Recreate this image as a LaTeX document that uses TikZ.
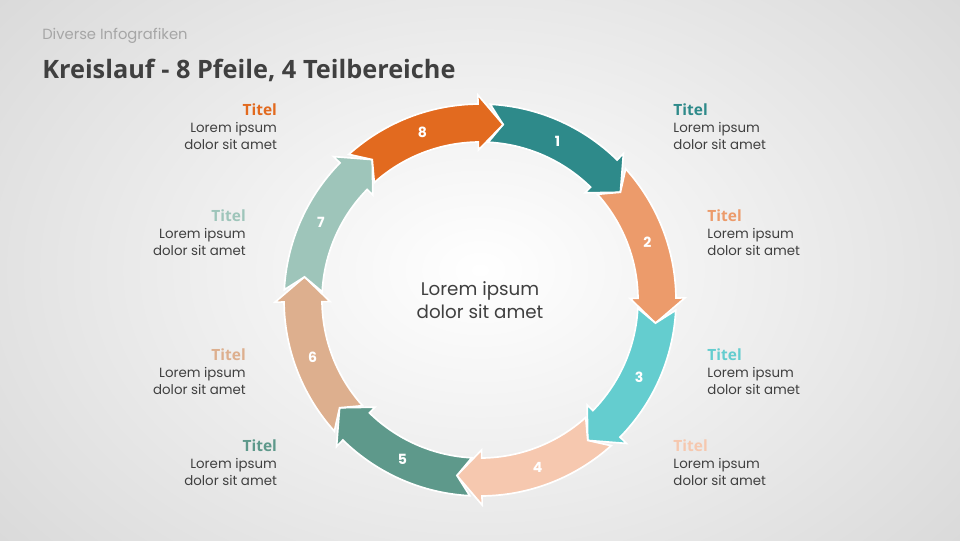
\documentclass[tikz,border=0pt]{standalone}
\usepackage{fontspec}
\setmainfont{Poppins}
\newfontfamily\titlefont{Open Sans}
\usetikzlibrary{positioning,calc}

\definecolor{cOne}{HTML}{2E8A8A}
\definecolor{cTwo}{HTML}{EC9B6B}
\definecolor{cThree}{HTML}{64CDCF}
\definecolor{cFour}{HTML}{F6C8AF}
\definecolor{cFive}{HTML}{5E998B}
\definecolor{cSix}{HTML}{DDAF8E}
\definecolor{cSeven}{HTML}{9EC5BA}
\definecolor{cEight}{HTML}{E26A1F}
\definecolor{txt}{HTML}{404040}

\tikzset{
  ttl/.style={font=\titlefont\bfseries\fontsize{11}{13}\selectfont,inner sep=0pt},
  body/.style={font=\fontsize{9.5}{12}\selectfont,text=txt,inner sep=0pt},
  num/.style={font=\bfseries\fontsize{10}{12}\selectfont,text=white},
  seg/.style={draw=white,line width=1.2pt,line join=miter}
}

\begin{document}
\begin{tikzpicture}
  \useasboundingbox (0,0) rectangle (24,-13.5);
  \begin{scope}
    \clip (0,0) rectangle (24,-13.5);
    \shade[inner color=white,outer color=black!17] (-6,6) rectangle (30,-19.5);
  \end{scope}

  % header
  \node[anchor=west,inner sep=0pt,text=black!35,font=\fontsize{10.5}{12}\selectfont] (sub) at (1.05,-0.9) {Diverse Infografiken};
  \node[anchor=west,inner sep=0pt,text=txt,font=\titlefont\bfseries\fontsize{18}{20}\selectfont] (head) at (1.05,-1.75) {Kreislauf - 8 Pfeile, 4 Teilbereiche};

  % ring of arrows
  \coordinate (c) at (12,-7.5);
  \foreach \k/\col in {1/cOne,2/cTwo,3/cThree,4/cFour,5/cFive,6/cSix,7/cSeven,8/cEight}{
    \pgfmathsetmacro{\ta}{87-45*(\k-1)}
    \pgfmathsetmacro{\tb}{\ta-45+3.6}
    \pgfmathsetmacro{\tp}{\ta-45-4.5}
    \pgfmathsetmacro{\tn}{\ta-4.5}
    \pgfmathsetmacro{\tm}{\ta-23}
    \draw[seg,fill=\col,shift={(c)}]
      (\ta:4.9) arc[start angle=\ta,end angle=\tb,radius=4.9]
      -- (\tb:5.125) -- (\tp:4.425) -- (\tb:3.75) -- (\tb:3.95)
      arc[start angle=\tb,end angle=\ta,radius=3.95] -- (\tn:4.425) -- cycle;
    \node[num] (n\k) at ($(c)+(\tm:4.425)$) {\k};
  }

  \node[font=\fontsize{13}{16}\selectfont,text=txt,align=center] (mid) at (c) {Lorem ipsum\\dolor sit amet};

  % right side
  \node[ttl,anchor=west,text=cOne] (t1) at (16.83,-2.75) {Titel};
  \node[body,anchor=north west,align=left] (b1) at (16.83,-3.05) {Lorem ipsum\\dolor sit amet};
  \node[ttl,anchor=west,text=cTwo] (t2) at (17.68,-5.4) {Titel};
  \node[body,anchor=north west,align=left] (b2) at (17.68,-5.7) {Lorem ipsum\\dolor sit amet};
  \node[ttl,anchor=west,text=cThree] (t3) at (17.68,-8.87) {Titel};
  \node[body,anchor=north west,align=left] (b3) at (17.68,-9.17) {Lorem ipsum\\dolor sit amet};
  \node[ttl,anchor=west,text=cFour] (t4) at (16.83,-11.15) {Titel};
  \node[body,anchor=north west,align=left] (b4) at (16.83,-11.45) {Lorem ipsum\\dolor sit amet};

  % left side
  \node[ttl,anchor=east,text=cEight] (t8) at (6.93,-2.75) {Titel};
  \node[body,anchor=north east,align=right] (b8) at (6.93,-3.05) {Lorem ipsum\\dolor sit amet};
  \node[ttl,anchor=east,text=cSeven] (t7) at (6.15,-5.4) {Titel};
  \node[body,anchor=north east,align=right] (b7) at (6.15,-5.7) {Lorem ipsum\\dolor sit amet};
  \node[ttl,anchor=east,text=cSix] (t6) at (6.15,-8.87) {Titel};
  \node[body,anchor=north east,align=right] (b6) at (6.15,-9.17) {Lorem ipsum\\dolor sit amet};
  \node[ttl,anchor=east,text=cFive] (t5) at (6.93,-11.15) {Titel};
  \node[body,anchor=north east,align=right] (b5) at (6.93,-11.45) {Lorem ipsum\\dolor sit amet};
\end{tikzpicture}
\end{document}
